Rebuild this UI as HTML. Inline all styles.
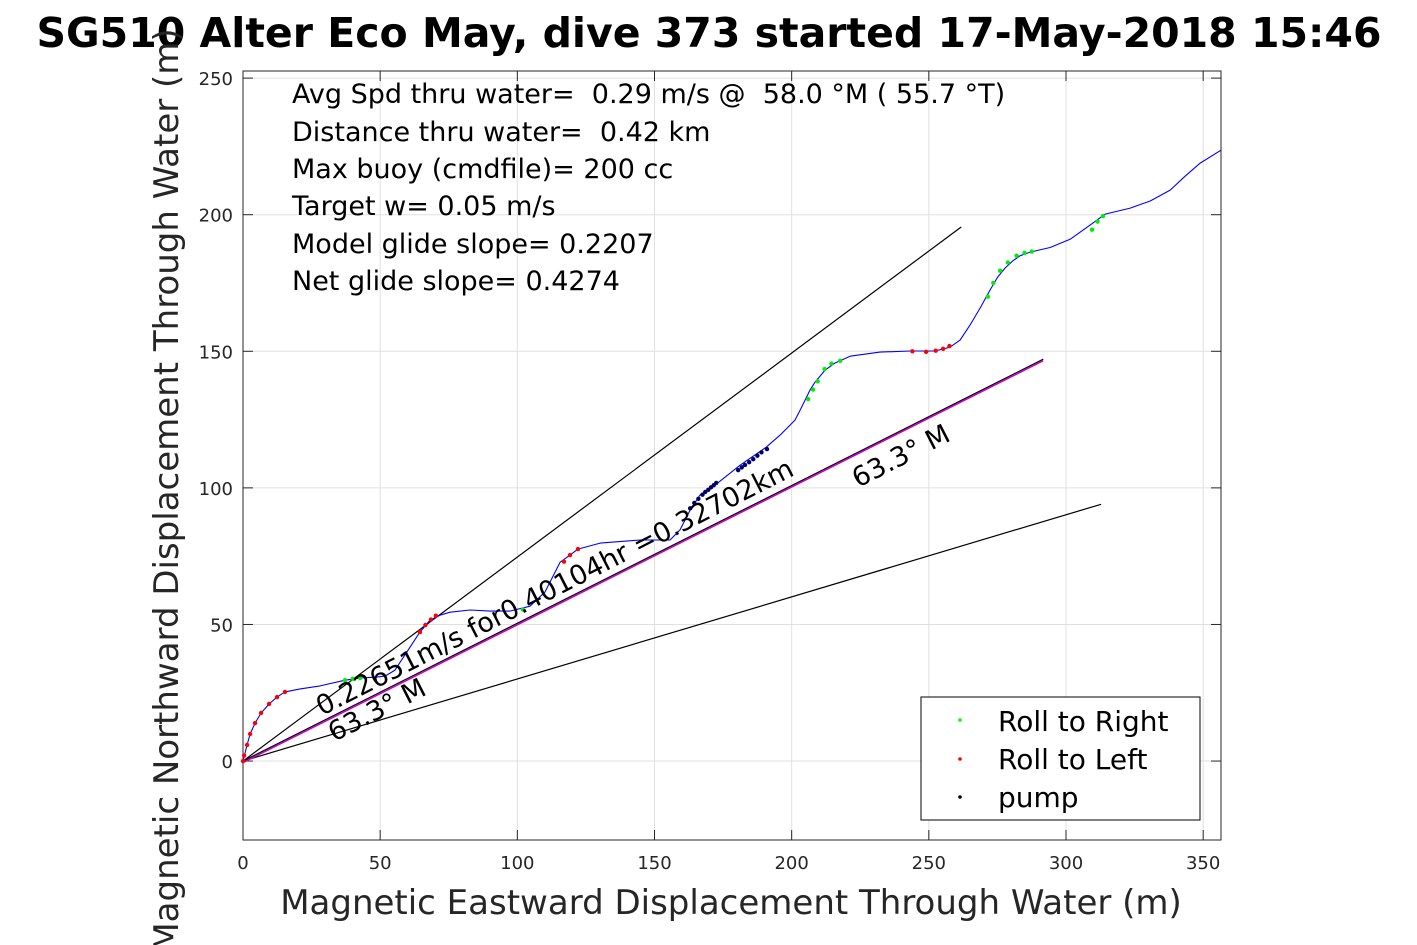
<!DOCTYPE html>
<html><head><meta charset="utf-8">
<style>
html,body{margin:0;padding:0;background:#fff;}
svg{display:block;font-family:"DejaVu Sans","Liberation Sans",sans-serif;}
text{white-space:pre;}
</style></head>
<body>
<svg id="chart" width="1417" height="945" viewBox="0 0 1417 945">
<text x="709" y="47" text-anchor="middle" font-size="41" font-weight="bold" fill="#000">SG510 Alter Eco May, dive 373 started 17-May-2018 15:46</text>
<g id="grid"></g>
<g id="axes"></g>
<g id="marks"></g>
<g font-size="27" fill="#000">
<text x="292" y="103">Avg Spd thru water=  0.29 m/s @  58.0 °M ( 55.7 °T)</text>
<text x="292" y="141">Distance thru water=  0.42 km</text>
<text x="292" y="178">Max buoy (cmdfile)= 200 cc</text>
<text x="292" y="215">Target w= 0.05 m/s</text>
<text x="292" y="253">Model glide slope= 0.2207</text>
<text x="292" y="290">Net glide slope= 0.4274</text>
</g>
<text transform="translate(322,716) rotate(-27)" font-size="27">0.22651m/s for0.40104hr =0.32702km</text>
<text transform="translate(334,742) rotate(-27)" font-size="27">63.3° M</text>
<text transform="translate(858,488) rotate(-27)" font-size="27">63.3° M</text>
<text x="731" y="914" text-anchor="middle" font-size="34" fill="#262626">Magnetic Eastward Displacement Through Water (m)</text>
<text transform="translate(178,490) rotate(-90)" text-anchor="middle" font-size="34" fill="#262626">Magnetic Northward Displacement Through Water (m)</text>
<g>
<rect x="921" y="697" width="279" height="123" fill="#fff" stroke="#000" stroke-width="1"/>
<circle cx="960" cy="720" r="1.8" fill="#00ff00"/>
<text x="998" y="731" font-size="28">Roll to Right</text>
<circle cx="960" cy="759" r="1.8" fill="#ff0000"/>
<text x="998" y="769" font-size="28">Roll to Left</text>
<circle cx="960" cy="797" r="1.8" fill="#000"/>
<text x="998" y="807" font-size="28">pump</text>
</g>
</svg>
<script>
const xTicks=[0,50,100,150,200,250,300,350];
const yTicks=[0,50,100,150,200,250];
const pathX=[0,1.5,2.6,4.4,6.6,9.5,12.4,15.3,20.8,28.1,37.2,42.7,48.1,51.8,55.4,64.5,68.2,71.8,75.5,82.8,90.0,97.3,104.6,110.1,115.6,119.2,122.1,130.2,144.7,155.7,159.3,163.0,166.6,172.1,181.2,190.7,195.8,201.2,203.1,206.7,208.5,212.2,215.8,221.3,232.2,243.2,252.3,257.7,261.4,265.0,268.7,272.3,275.0,277.8,280.5,283.3,286.9,294.2,301.5,308.8,314.3,323.4,330.7,338.0,343.4,348.9,356.5];
const pathY=[0,5.9,9.9,13.9,17.6,20.9,23.4,25.3,26.4,27.5,29.6,30.4,30.7,31.1,33.3,47.2,51.6,53.4,54.5,55.3,54.9,54.9,56.7,61.9,72.8,75.4,77.6,79.8,80.9,80.9,84.6,91.9,97.4,101.0,108.3,114.9,119.3,124.8,128.5,135.8,138.7,143.1,145.7,148.2,149.7,150.1,150.1,151.5,154.1,159.6,165.8,172.4,177.0,180.5,183.0,185.0,186.3,188.0,191.0,196.2,200.2,202.4,205.0,209.0,214.1,218.9,223.6];
const leftX=[0,0.4,1.5,2.6,4.4,6.6,9.5,12.4,15.3,64.5,66.5,68.5,70.3,117,119.2,122.1,244,249,252.5,255.2,257.5];
const leftY=[0,2,5.9,9.9,13.9,17.6,20.9,23.4,25.3,47.2,49.8,51.8,53.2,73,75.4,77.6,150,149.8,150.2,150.9,151.9];
const rightX=[37.2,40,42.7,102,206,207.8,209.5,212,214.5,217.7,271.5,273.5,276,278.8,282,284.9,287.5,309.5,311.5,313.5];
const rightY=[29.6,30.1,30.4,55.5,132.5,136,139,143.5,145.5,146.5,170,175,179.5,182.5,185,186,186.5,194.5,197.5,199.5];
const pumpX=[163,164.5,166,167.5,168.5,169.6,170.6,171.6,172.5,180.5,181.8,183,184.5,186,187.5,189,191];
const pumpY=[92.5,94.5,96,97.5,98.5,99.3,100.2,101,101.8,106.5,107.5,108.4,109.4,110.5,111.8,113,114.2];
const lineEndX=[261.8,291.7,312.8];
const lineEndY=[195.5,147.1,94];

const X0=243,X1=1221,Y0=71,Y1=840;
const xmin=0,xmax=356.5,ymin=-28.9,ymax=252.6;
const sx=v=>X0+(v-xmin)/(xmax-xmin)*(X1-X0);
const sy=v=>Y1-(v-ymin)/(ymax-ymin)*(Y1-Y0);
const NS="http://www.w3.org/2000/svg";
function mk(tag,attrs,parent){const e=document.createElementNS(NS,tag);for(const k in attrs)e.setAttribute(k,attrs[k]);parent.appendChild(e);return e;}
const grid=document.getElementById('grid'),axes=document.getElementById('axes'),marks=document.getElementById('marks');
xTicks.forEach(t=>{
  const g=mk('line',{x1:sx(t),x2:sx(t),y1:Y0,y2:Y1,stroke:'#e0e0e0','stroke-width':1},grid);
  
  
  const tk=mk('line',{x1:sx(t),x2:sx(t),y1:Y1,y2:Y1-10,stroke:'#262626'},axes);
  
  
  const tk2=mk('line',{x1:sx(t),x2:sx(t),y1:Y0,y2:Y0+10,stroke:'#262626'},axes);
  
  
  const lb=mk('text',{x:sx(t),y:869,'text-anchor':'middle','font-size':18,fill:'#262626'},axes);
  lb.textContent=t;
  
  
});
yTicks.forEach(t=>{
  const g=mk('line',{x1:X0,x2:X1,y1:sy(t),y2:sy(t),stroke:'#e0e0e0','stroke-width':1},grid);
  
  
  const tk=mk('line',{x1:X0,x2:X0+10,y1:sy(t),y2:sy(t),stroke:'#262626'},axes);
  
  
  const tk2=mk('line',{x1:X1,x2:X1-10,y1:sy(t),y2:sy(t),stroke:'#262626'},axes);
  
  
  const lb=mk('text',{x:233,y:sy(t)+7,'text-anchor':'end','font-size':18,fill:'#262626'},axes);
  lb.textContent=t;
  
  
});
const box=mk('rect',{x:X0,y:Y0,width:X1-X0,height:Y1-Y0,fill:'none',stroke:'#262626','stroke-width':1},axes);


lineEndX.forEach((ex,i)=>{
  const l=mk('line',{x1:sx(0),y1:sy(0),x2:sx(ex),y2:sy(lineEndY[i]),stroke:'#000','stroke-width':1.2},marks);
  
  
});
const mag=mk('line',{x1:sx(0),y1:sy(0)+1.5,x2:sx(lineEndX[1]),y2:sy(lineEndY[1])+1.5,stroke:'#cc00cc','stroke-width':1.5},marks);


let d='';pathX.forEach((x,i)=>{d+=(i?'L':'M')+sx(x).toFixed(1)+','+sy(pathY[i]).toFixed(1);});
const p=mk('path',{d:d,fill:'none',stroke:'#0000ff','stroke-width':1.1,'stroke-linejoin':'round'},marks);


function dots(xs,ys,col,name){xs.forEach((x,i)=>{const c=mk('circle',{cx:sx(x),cy:sy(ys[i]),r:2.2,fill:col},marks);
  
  });}
dots(leftX,leftY,'#ff0000','roll-left-point');
dots(rightX,rightY,'#00ee00','roll-right-point');
dots(pumpX,pumpY,'#000066','pump-point');
</script>
</body></html>
